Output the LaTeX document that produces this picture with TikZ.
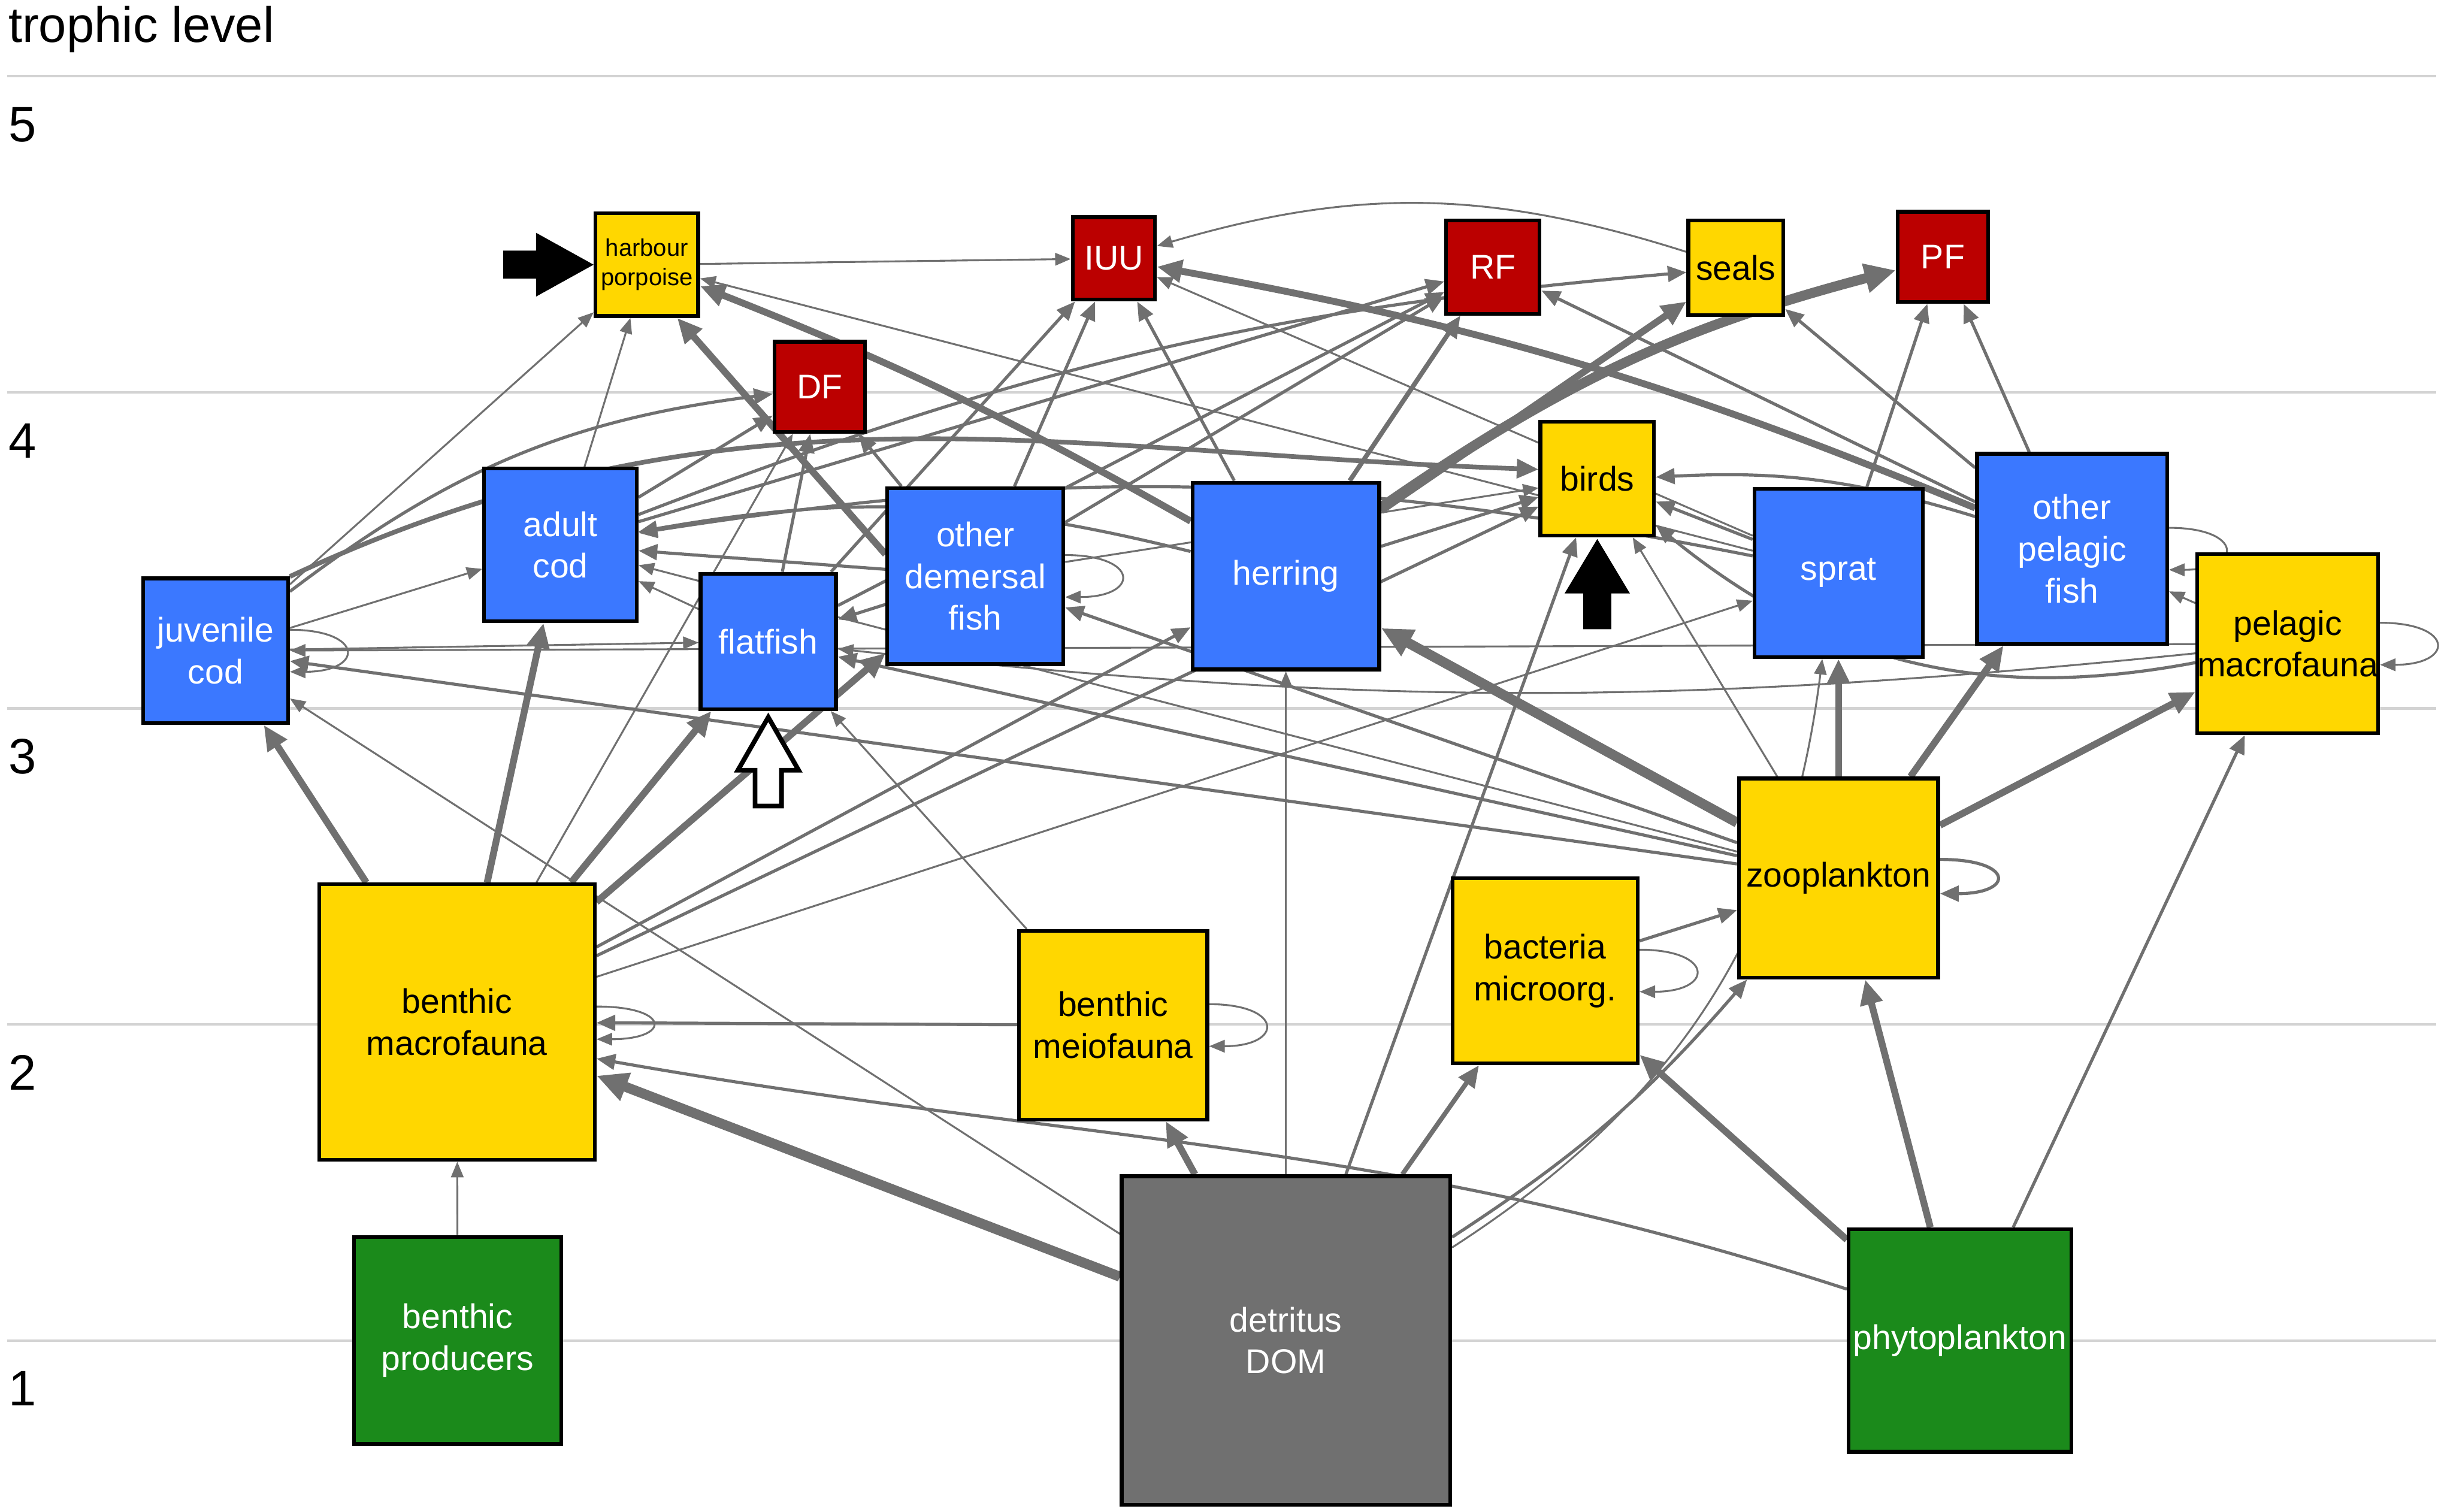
\documentclass[tikz,border=0pt]{standalone}
\usepackage{fontspec}
\setmainfont{Liberation Sans}
\usetikzlibrary{arrows.meta}

\definecolor{fishblue}{RGB}{59,120,255}
\definecolor{gold}{RGB}{255,215,0}
\definecolor{fleetred}{RGB}{187,0,0}
\definecolor{plant}{RGB}{27,138,27}
\definecolor{dom}{RGB}{112,112,112}
\definecolor{flow}{RGB}{112,112,112}
\definecolor{gridgray}{RGB}{211,211,211}

\pgfdeclarelayer{back}
\pgfdeclarelayer{wires}
\pgfsetlayers{back,wires,main}

\tikzset{
  box/.style={draw=black, line width=1.2pt, inner sep=0pt, align=center,
    font=\fontsize{11}{13.4}\selectfont, minimum size=#1},
  animal/.style={box=#1, fill=gold, text=black},
  fish/.style={box=#1, fill=fishblue, text=white},
  fleet/.style={box=#1, fill=fleetred, text=white},
  plant/.style={box=#1, fill=plant, text=white},
  flowthin/.style={draw=flow, line width=0.6pt, -{Triangle[length=5pt,width=4pt]}},
  flowmed/.style={draw=flow, line width=1pt, -{Triangle[length=6pt,width=5pt]}},
  flowmid/.style={draw=flow, line width=1.5pt, -{Triangle[length=7pt,width=6pt]}},
  flowbig/.style={draw=flow, line width=2.2pt, -{Triangle[length=8pt,width=7pt]}},
  flowhuge/.style={draw=flow, line width=3.2pt, -{Triangle[length=10pt,width=9pt]}},
  tier/.style={anchor=base west, inner sep=0pt, font=\fontsize{16}{18}\selectfont}
}

\begin{document}
\begin{tikzpicture}[x=0.5pt, y=-0.5pt]
  \useasboundingbox (0,0) rectangle (1568,971);

  % trophic levels
  \begin{pgfonlayer}{back}
    \foreach \lev/\y in {5/49,4/252,3/455,2/658,1/861} {
      \draw[gridgray, line width=0.8pt] (4.5,\y) -- (1565,\y);
      \node[tier] at (5,\y+42) {\lev};
    }
  \end{pgfonlayer}
  \node[tier] at (5,27) {trophic level};

  % groups
  \node[animal=33pt, font=\fontsize{7.7}{9.5}\selectfont] (hp) at (415.5,170) {harbour\\porpoise};
  \node[fleet=26.5pt] (IUU) at (715.5,166) {IUU};
  \node[fleet=30pt] (RF) at (959,171.5) {RF};
  \node[animal=30.5pt] (seals) at (1115,172) {seals};
  \node[fleet=29pt] (PF) at (1248,165) {PF};
  \node[fleet=29pt] (DF) at (526.5,248.5) {DF};
  \node[animal=36.5pt] (birds) at (1026,307.5) {birds};
  \node[fish=46.5pt] (jcod) at (138.5,418) {juvenile\\cod};
  \node[fish=49pt] (acod) at (360,350) {adult\\cod};
  \node[fish=43.5pt] (ff) at (493.5,412) {flatfish};
  \node[fish=56.5pt] (odf) at (626.5,370) {other\\demersal\\fish};
  \node[fish=60pt] (herring) at (826,370) {herring};
  \node[fish=54pt] (sprat) at (1181,368) {sprat};
  \node[fish=61pt] (opf) at (1331,352.5) {other\\pelagic\\fish};
  \node[animal=57.5pt] (pm) at (1469.5,413.5) {pelagic\\macrofauna};
  \node[animal=64pt] (zoo) at (1181,564) {zooplankton};
  \node[animal=59.5pt] (bac) at (992.5,623.5) {bacteria\\microorg.};
  \node[animal=60.5pt] (bmei) at (715,658.5) {benthic\\meiofauna};
  \node[animal=88.5pt] (bm) at (293.5,656.5) {benthic\\macrofauna};
  \node[plant=66.5pt] (bp) at (294,861) {benthic\\producers};
  \node[box=105.5pt, fill=dom, text=white] (det) at (826,861) {detritus\\DOM};
  \node[plant=71.5pt] (phy) at (1259,861) {phytoplankton};

  \begin{pgfonlayer}{wires}
    % producers and detritus
    \draw[flowthin] (bp) -- (bm);
    \draw[flowhuge] (det) -- (bm);
    \draw[flowbig] (det) -- (bmei);
    \draw[flowmid] (det) -- (bac);
    \draw[flowthin] (det) -- (herring);
    \draw[flowmed] (det) -- (birds);
    \draw[flowmed] (det) to[bend right=8] (zoo);
    \draw[flowthin] (det) to[bend right=25] (sprat);
    \draw[flowthin] (det) -- (jcod);
    \draw[flowbig] (phy) -- (zoo);
    \draw[flowbig] (phy) -- (bac);
    \draw[flowmed] (phy) -- (pm);
    \draw[flowmed] ([yshift=16.5pt]phy.west) to[out=162,in=-10] ([yshift=-11.75pt]bm.east);
    \draw[flowmed] (bac) -- (zoo);
    \draw[flowmed] (bmei) -- (bm);
    \draw[flowthin] (bmei) -- (ff);

    % benthic macrofauna
    \draw[flowbig] (bm) -- (jcod);
    \draw[flowbig] (bm) -- (acod);
    \draw[flowbig] (bm) -- (ff);
    \draw[flowbig] (bm) -- (odf);
    \draw[flowmed] (bm) -- (herring);
    \draw[flowmed] (bm) -- (birds);
    \draw[flowthin] (bm) -- (sprat);
    \draw[flowthin] (bm) -- (DF);

    % zooplankton and pelagic macrofauna
    \draw[flowhuge] (zoo) -- (herring);
    \draw[flowbig] (zoo) -- (sprat);
    \draw[flowbig] (zoo) -- (opf);
    \draw[flowbig] (zoo) -- (pm);
    \draw[flowthin] (zoo) -- (birds);
    \draw[flowmed] (zoo) -- (odf);
    \draw[flowmed] (zoo) -- (ff);
    \draw[flowmed] (zoo) -- (jcod);
    \draw[flowthin] (zoo) -- (acod);
    \draw[flowthin] (pm) -- (jcod);
    \draw[flowthin] (pm) -- (opf);
    \draw[flowmed] (pm) to[bend left=25] (birds);
    \draw[flowthin] (pm) to[bend left=6] (ff);

    % pelagic fish
    \draw[flowhuge] (herring) to[bend left=10] (PF);
    \draw[flowbig] (herring) -- (seals);
    \draw[flowmid] (herring) -- (RF);
    \draw[flowmed] (herring) -- (IUU);
    \draw[flowbig] (herring) to[bend right=4] (hp);
    \draw[flowmed] (herring) -- (birds);
    \draw[flowmed] (herring) to[bend right=12] (acod);
    \draw[flowmed] (sprat) -- (PF);
    \draw[flowmed] (sprat) -- (birds);
    \draw[flowthin] (sprat) -- (hp);
    \draw[flowthin] (sprat) -- (IUU);
    \draw[flowmed] (sprat) to[bend right=10] (acod);
    \draw[flowmed] (opf) -- (PF);
    \draw[flowmed] (opf) -- (RF);
    \draw[flowmed] (opf) -- (seals);
    \draw[flowbig] (opf) to[bend right=6] (IUU);
    \draw[flowmed] (opf) to[bend right=10] (birds);

    % demersal fish
    \draw[flowbig] ([yshift=7pt]odf.west) -- ([xshift=9.75pt]hp.south);
    \draw[flowmed] (odf) -- (DF);
    \draw[flowmed] (odf) -- (IUU);
    \draw[flowmed] (odf) -- (RF);
    \draw[flowmed] (odf) -- (acod);
    \draw[flowmed] (odf) -- (ff);
    \draw[flowthin] (odf) -- (birds);
    \draw[flowmed] (ff) -- (DF);
    \draw[flowmed] (ff) -- (IUU);
    \draw[flowmed] (ff) -- (RF);
    \draw[flowthin] (ff) -- (acod);
    \draw[flowthin] (acod) -- (hp);
    \draw[flowmed] (acod) -- (DF);
    \draw[flowmed] (acod) -- (RF);
    \draw[flowmed] (acod) to[bend left=8] (seals);
    \draw[flowthin] (jcod) -- (hp);
    \draw[flowthin] (jcod) -- (acod);
    \draw[flowthin] (jcod) -- (ff);
    \draw[flowmed] (jcod) to[bend left=15] (DF);
    \draw[flowmid] (jcod.north east) to[out=25,in=178] ([yshift=3pt]birds.west);

    % top predators
    \draw[flowthin] (hp) -- (IUU);
    \draw[flowthin] (seals) to[bend right=17] (IUU);

    % self loops
    \foreach \n in {jcod,odf,opf,pm,bac,bmei}
      \draw[flowthin] ([yshift=6.75pt]\n.east) to[out=0,in=0,distance=24pt] ([yshift=-6.75pt]\n.east);
    \draw[flowmed] ([yshift=6pt]zoo.east) to[out=0,in=0,distance=24pt] ([yshift=-5pt]zoo.east);
    \draw[flowthin] ([yshift=5pt]bm.east) to[out=0,in=0,distance=24pt] ([yshift=-5.5pt]bm.east);
  \end{pgfonlayer}

  % markers
  \fill (hp.west) -- ++(-18.5pt,10.25pt) -- ++(0,-5.75pt) -- ++(-10.5pt,0)
    -- ++(0,-9pt) -- ++(10.5pt,0) -- ++(0,-5.75pt) -- cycle;
  \fill ([yshift=-0.5pt]birds.south) -- ++(10.5pt,-17.5pt) -- ++(-6pt,0) -- ++(0,-11.5pt)
    -- ++(-9pt,0) -- ++(0,11.5pt) -- ++(-6pt,0) -- cycle;
  \draw[line width=1.5pt, fill=white] ([yshift=-2pt]ff.south) -- ++(9.75pt,-17pt) -- ++(-5.5pt,0)
    -- ++(0,-11.5pt) -- ++(-8.5pt,0) -- ++(0,11.5pt) -- ++(-5.5pt,0) -- cycle;
\end{tikzpicture}
\end{document}
